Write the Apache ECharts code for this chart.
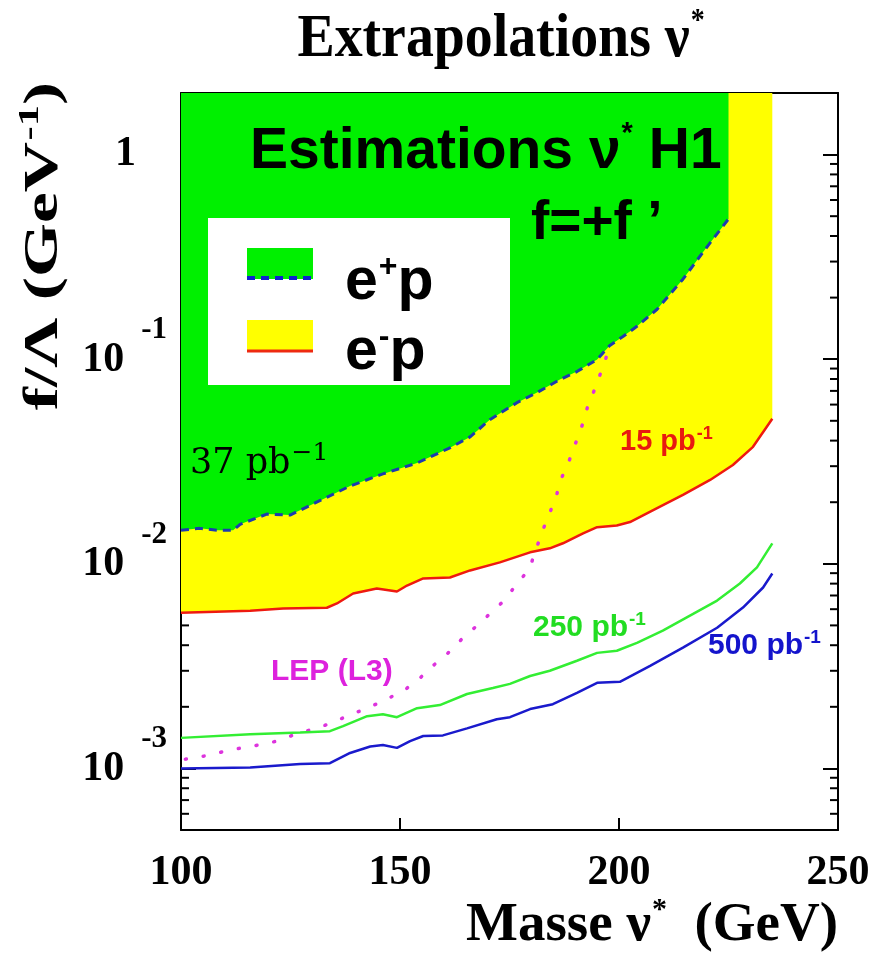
<!DOCTYPE html>
<html>
<head>
<meta charset="utf-8">
<title>Extrapolations nu*</title>
<script src="https://cdn.jsdelivr.net/npm/echarts@6.0.0/dist/echarts.min.js"></script>
<style>
html, body { margin: 0; padding: 0; background: #fff; }
#chart { width: 886px; height: 955px; }
</style>
</head>
<body>
<div id="chart"></div>
<script>
// axis ranges
var xMin = 100, xMax = 250, xStep = 50;
var yMin = 0.0005, yMax = 2;
var tickMantissas = [2, 3, 4, 5, 6, 7, 8, 9];
var tickDecades = [-4, -3, -2, -1, 0];

// e+p, 37 pb-1 (boundary of the green region, dashed)
var epMass  = [100, 104.3, 108.2, 111.9, 113.5, 119.6, 124.9, 132.4, 138.6, 146.1, 153.9, 161.4, 166.0, 170.5, 176.7, 181.3, 186.5, 190.4, 195.0, 197.9, 200.9, 204.1, 208.7, 214.6, 219.2, 225];
var epLimit = [0.0146, 0.0149, 0.0146, 0.0146, 0.0156, 0.0175, 0.0173, 0.0207, 0.0240, 0.0275, 0.0311, 0.0369, 0.0417, 0.0506, 0.0613, 0.0687, 0.0795, 0.0870, 0.0997, 0.1167, 0.129, 0.1448, 0.1754, 0.246, 0.334, 0.485];

// e-p, 15 pb-1 (boundary of the yellow region, red)
var emMass  = [100, 115.8, 123.3, 133.3, 135.6, 139.3, 144.7, 149.3, 151.6, 155.3, 161.4, 166.0, 172.8, 179.7, 184.2, 187.2, 191.8, 195.0, 199.5, 202.5, 208.7, 214.6, 220.8, 226.0, 230.6, 235];
var emLimit = [0.00577, 0.0059, 0.00604, 0.0061, 0.0064, 0.00716, 0.00757, 0.00732, 0.00783, 0.00848, 0.00857, 0.00928, 0.01016, 0.01138, 0.0119, 0.0126, 0.0141, 0.0151, 0.0154, 0.0160, 0.0187, 0.0217, 0.0257, 0.0304, 0.0373, 0.0512];

// 250 pb-1
var l250Mass  = [100, 115.8, 127.2, 134.0, 137.0, 142.5, 146.1, 149.3, 153.9, 159.1, 165.3, 171.2, 175.1, 179.7, 184.2, 190.4, 195.0, 199.5, 204.1, 210.0, 216.2, 222.4, 227.6, 231.5, 235];
var l250Limit = [0.00141, 0.00147, 0.00150, 0.00152, 0.00161, 0.00180, 0.00184, 0.00178, 0.00197, 0.00204, 0.00231, 0.00247, 0.00259, 0.00283, 0.00300, 0.00336, 0.00367, 0.00376, 0.00411, 0.00471, 0.00558, 0.00661, 0.00801, 0.00960, 0.01259];

// 500 pb-1
var l500Mass  = [100, 115.8, 127.2, 134.0, 138.6, 143.2, 146.1, 149.3, 152.3, 155.3, 159.8, 165.3, 172.1, 175.1, 179.7, 184.9, 190.4, 195.0, 200.2, 207.1, 214.6, 222.4, 228.3, 232.9, 235];
var l500Limit = [0.00100, 0.00101, 0.00105, 0.00106, 0.00119, 0.00128, 0.00130, 0.00126, 0.00136, 0.00144, 0.00145, 0.00157, 0.00174, 0.00178, 0.00195, 0.00206, 0.00234, 0.00262, 0.00265, 0.00317, 0.00389, 0.00487, 0.00611, 0.00766, 0.00897];

// LEP (L3)
var lepMass  = [101, 105.5, 109.8, 113.9, 118.5, 122.6, 126.7, 131.1, 135.2, 139.0, 143.2, 147.0, 151.1, 154.6, 157.8, 161.0, 164.4, 167.6, 170.8, 174.0, 176.7, 179.5, 182.4, 184.0, 185.6, 187.0, 188.6, 190.2, 191.8, 192.9, 194.7, 197.3];
var lepLimit = [0.00111, 0.00115, 0.00121, 0.00126, 0.00131, 0.00137, 0.00149, 0.00157, 0.00170, 0.00184, 0.00200, 0.00218, 0.00242, 0.00277, 0.00321, 0.00367, 0.00435, 0.00499, 0.00577, 0.00668, 0.00801, 0.00939, 0.01426, 0.0173, 0.0212, 0.0266, 0.0318, 0.0394, 0.0489, 0.0593, 0.0734, 0.1055];

var SERIF = '"Liberation Serif", "Times New Roman", serif';
var SANS = '"Liberation Sans", Arial, sans-serif';
var CMLIKE = '"DejaVu Serif", serif';
var GREEN = '#00f000', YELLOW = '#ffff00';

function pairs(xs, ys) {
	return xs.map(function (x, i) { return [x, ys[i]]; });
}

// minor ticks of the log axis (2..9 x 10^n)
var minorTicks = [];
tickDecades.forEach(function (d) {
	tickMantissas.forEach(function (m) {
		var v = m * Math.pow(10, d);
		if (v > yMin * 1.0001 && v < yMax * 0.9999) minorTicks.push([xMin, v]);
	});
});

var chart = echarts.init(document.getElementById('chart'));

// base text + raised superscript, for graphic texts
var supRich = function (size, color, font, weight, raise, supScale) {
	return {
		b: { fontFamily: font, fontWeight: weight, fontSize: size, fill: color, color: color },
		s: { fontFamily: font, fontWeight: weight, fontSize: Math.round(size * (supScale || 0.62)), fill: color, color: color, padding: [0, 0, raise, 1] }
	};
};

var option = {
	animation: false,
	backgroundColor: '#fff',
	grid: { left: 181, right: 48, top: 93, bottom: 125 },
	xAxis: [{
		type: 'value', min: xMin, max: xMax, interval: xStep,
		axisLine: { show: true, lineStyle: { color: '#000', width: 2 } },
		axisTick: { show: true, inside: true, length: 12, lineStyle: { color: '#000', width: 2 } },
		axisLabel: { margin: 22, color: '#000', fontFamily: SERIF, fontWeight: 'bold', fontSize: 42 },
		splitLine: { show: false }
	}, {
		type: 'value', position: 'top', min: xMin, max: xMax, interval: xStep,
		axisLine: { show: true, lineStyle: { color: '#000', width: 2 } },
		axisTick: { show: false }, axisLabel: { show: false }, splitLine: { show: false }
	}],
	yAxis: [{
		type: 'log', min: yMin, max: yMax,
		axisLine: { show: true, lineStyle: { color: '#000', width: 2 } },
		axisTick: { show: true, inside: true, length: 15, lineStyle: { color: '#000', width: 2 } },
		splitLine: { show: false },
		axisLabel: {
			margin: 14,
			formatter: function (v) {
				var lg = Math.log10(v), e = Math.round(lg);
				if (Math.abs(lg - e) > 1e-6) return '';
				return e === 0 ? '{one|1}' : '{b|10}{s|' + e + '}';
			},
			rich: {
				b: { fontFamily: SERIF, fontWeight: 'bold', fontSize: 42, color: '#000', verticalAlign: 'bottom', padding: [0, 0, 23, 0] },
				s: { fontFamily: SERIF, fontWeight: 'bold', fontSize: 31, color: '#000', verticalAlign: 'top', padding: [0, 0, 58, 17] },
				one: { fontFamily: SERIF, fontWeight: 'bold', fontSize: 42, color: '#000', padding: [0, 31, 0, 0] }
			}
		}
	}, {
		type: 'log', position: 'right', min: yMin, max: yMax,
		axisLine: { show: true, lineStyle: { color: '#000', width: 2 } },
		axisTick: { show: true, inside: true, length: 15, lineStyle: { color: '#000', width: 2 } },
		axisLabel: { show: false }, splitLine: { show: false }
	}],
	series: [{
		// minor ticks on both vertical axes
		type: 'custom', z: 1, silent: true,
		data: minorTicks,
		renderItem: function (params, api) {
			var v = api.value(1);
			var pl = api.coord([xMin, v]);
			var pr = api.coord([xMax, v]);
			var st = { stroke: '#000', lineWidth: 2 };
			return {
				type: 'group',
				children: [
					{ type: 'line', shape: { x1: pl[0], y1: pl[1], x2: pl[0] + 8, y2: pl[1] }, style: st },
					{ type: 'line', shape: { x1: pr[0] - 8, y1: pr[1], x2: pr[0], y2: pr[1] }, style: st }
				]
			};
		}
	}, {
		name: 'e-p area', type: 'line', z: 2, showSymbol: false, silent: true,
		data: pairs(emMass, emLimit),
		lineStyle: { width: 0, opacity: 0 },
		areaStyle: { color: YELLOW, opacity: 1, origin: 'end' }
	}, {
		name: 'e+p area', type: 'line', z: 3, showSymbol: false, silent: true,
		data: pairs(epMass, epLimit),
		lineStyle: { width: 0, opacity: 0 },
		areaStyle: { color: GREEN, opacity: 1, origin: 'end' }
	}, {
		name: 'LEP (L3)', type: 'line', z: 4, showSymbol: false, silent: true,
		data: pairs(lepMass, lepLimit),
		lineStyle: { color: '#dd33dd', width: 3.5, type: [1, 17], cap: 'round' }
	}, {
		name: '15 pb-1', type: 'line', z: 5, showSymbol: false, silent: true,
		data: pairs(emMass, emLimit),
		lineStyle: { color: '#ee1a10', width: 2.5 }
	}, {
		name: '37 pb-1', type: 'line', z: 5, showSymbol: false, silent: true,
		data: pairs(epMass, epLimit),
		lineStyle: { color: '#1c3cae', width: 3, type: [8, 6] }
	}, {
		name: '250 pb-1', type: 'line', z: 5, showSymbol: false, silent: true,
		data: pairs(l250Mass, l250Limit),
		lineStyle: { color: '#33ee33', width: 2.5 }
	}, {
		name: '500 pb-1', type: 'line', z: 5, showSymbol: false, silent: true,
		data: pairs(l500Mass, l500Limit),
		lineStyle: { color: '#1a1acc', width: 2.5 }
	}],
	graphic: [
		// title
		{ type: 'text', x: 501, y: 40, scaleX: 0.9, z: 10, style: {
			text: '{b|Extrapolations ν}{s|*}', align: 'center', verticalAlign: 'middle',
			rich: supRich(62, '#000', SERIF, 'bold', 36, 0.5) } },
		// x axis name
		{ type: 'text', x: 838, y: 926, z: 10, style: {
			text: '{b|Masse ν}{s|*}{b|  (GeV)}', align: 'right', verticalAlign: 'middle',
			rich: supRich(55, '#000', SERIF, 'bold', 32, 0.55) } },
		// y axis name
		{ type: 'text', x: 44, y: 246, rotation: Math.PI / 2, scaleX: 1.42, z: 10, style: {
			text: '{b|f/Λ (GeV}{s|-1}{b|)}', align: 'center', verticalAlign: 'middle',
			rich: supRich(49, '#000', SERIF, 'bold', 27) } },
		// in-plot header
		{ type: 'text', x: 250, y: 152, z: 10, style: {
			text: '{b|Estimations ν}{s|*}{b| H1}', align: 'left', verticalAlign: 'middle',
			rich: supRich(57, '#000', SANS, 'bold', 36, 0.5) } },
		{ type: 'text', x: 531, y: 224, z: 10, style: {
			text: 'f=+f ’', align: 'left', verticalAlign: 'middle',
			font: 'bold 55px ' + SANS, fill: '#000' } },
		// legend box
		{ type: 'rect', z: 10, shape: { x: 208, y: 218, width: 302, height: 167 }, style: { fill: '#fff' } },
		{ type: 'rect', z: 11, shape: { x: 247, y: 248, width: 66, height: 31 }, style: { fill: GREEN } },
		{ type: 'line', z: 12, shape: { x1: 247, y1: 278, x2: 313, y2: 278 }, style: { stroke: '#1020d0', lineWidth: 4, lineDash: [8, 6] } },
		{ type: 'rect', z: 11, shape: { x: 247, y: 320, width: 66, height: 32 }, style: { fill: YELLOW } },
		{ type: 'line', z: 12, shape: { x1: 247, y1: 351, x2: 313, y2: 351 }, style: { stroke: '#ee2a10', lineWidth: 3 } },
		{ type: 'text', x: 345, y: 283, z: 12, style: {
			text: '{b|e}{s|+}{b|p}', align: 'left', verticalAlign: 'middle',
			rich: supRich(59, '#000', SANS, 'bold', 32, 0.55) } },
		{ type: 'text', x: 345, y: 353, z: 12, style: {
			text: '{b|e}{s|-}{b|p}', align: 'left', verticalAlign: 'middle',
			rich: supRich(59, '#000', SANS, 'bold', 32, 0.55) } },
		// curve labels
		{ type: 'text', x: 190, y: 464, z: 12, style: {
			text: '{b|37 pb}{s|−1}', align: 'left', verticalAlign: 'middle',
			rich: supRich(35, '#000', CMLIKE, 'normal', 22, 0.72) } },
		{ type: 'text', x: 620, y: 442, z: 12, style: {
			text: '{b|15 pb}{s|-1}', align: 'left', verticalAlign: 'middle',
			rich: supRich(29, '#e81a10', SANS, 'bold', 16) } },
		{ type: 'text', x: 533, y: 628, z: 12, style: {
			text: '{b|250 pb}{s|-1}', align: 'left', verticalAlign: 'middle',
			rich: supRich(30, '#22dd22', SANS, 'bold', 16) } },
		{ type: 'text', x: 708, y: 646, z: 12, style: {
			text: '{b|500 pb}{s|-1}', align: 'left', verticalAlign: 'middle',
			rich: supRich(30, '#1414cc', SANS, 'bold', 16) } },
		{ type: 'text', x: 271, y: 672, z: 12, style: {
			text: 'LEP (L3)', align: 'left', verticalAlign: 'middle',
			font: 'bold 30px ' + SANS, fill: '#dd22dd' } }
	]
};

chart.setOption(option);
</script>
</body>
</html>
